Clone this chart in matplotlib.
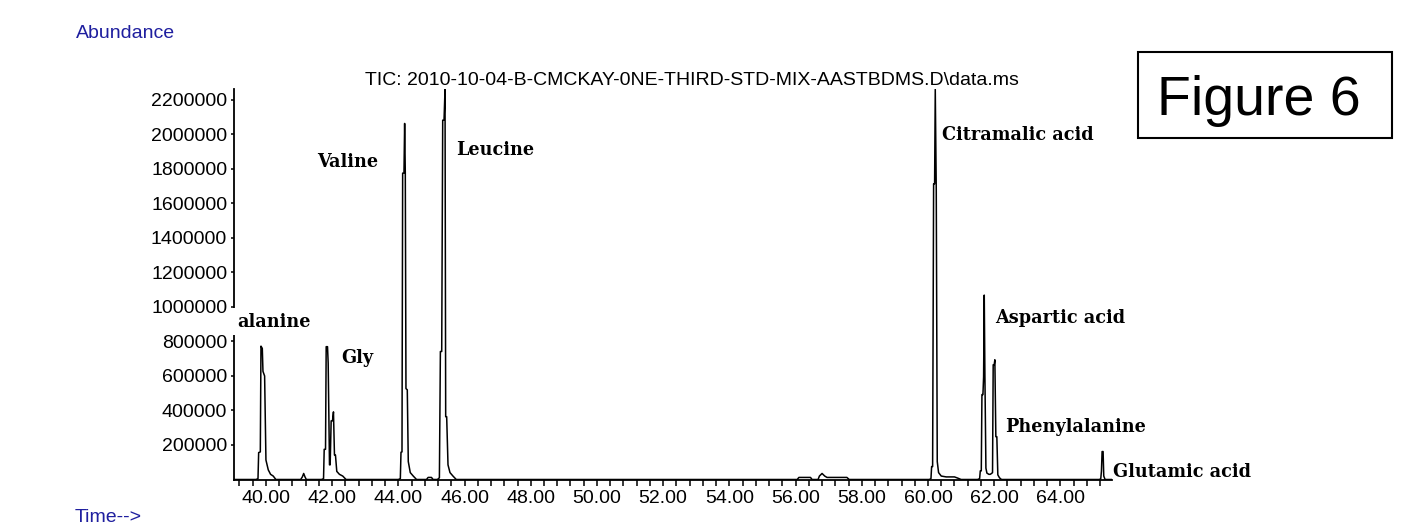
import numpy as np
import matplotlib
matplotlib.use("Agg")
import matplotlib.pyplot as plt
from matplotlib.patches import Rectangle

# === chromatogram data (time in min, abundance) ===
start_t = [39.02, 39.70]
start_a = [0, 0]

alanine_t = [39.76, 39.78, 39.83, 39.85, 39.89, 39.91, 39.96, 40.00, 40.07, 40.14, 40.22, 40.30]
alanine_a = [5000, 156000, 160000, 773000, 760000, 627000, 600000, 113000, 56000, 30000, 20000, 0]

bump41_t = [41.05, 41.10, 41.14, 41.18, 41.22]
bump41_a = [0, 15000, 35000, 15000, 0]

gly_t = [41.68, 41.74, 41.76, 41.80, 41.82, 41.86, 41.88, 41.92, 41.94, 41.97, 42.01, 42.04,
         42.07, 42.10, 42.14, 42.22, 42.32, 42.42]
gly_a = [0, 5000, 175000, 175000, 770000, 770000, 675000, 85000, 85000, 340000, 340000, 392000,
         142000, 142000, 47000, 30000, 20000, 0]

valine_t = [44.00, 44.06, 44.08, 44.11, 44.13, 44.17, 44.19, 44.21, 44.23, 44.27, 44.30, 44.36, 44.45, 44.55]
valine_a = [0, 5000, 158000, 160000, 1776000, 1776000, 2064000, 1776000, 527000, 520000, 104000, 40000, 20000, 0]

bump45_t = [44.85, 44.90, 45.00, 45.05]
bump45_a = [0, 12000, 12000, 0]

leucine_t = [45.18, 45.24, 45.27, 45.31, 45.34, 45.38, 45.41, 45.43, 45.46, 45.50, 45.56, 45.65, 45.75]
leucine_a = [0, 10000, 742000, 742000, 2083000, 2083000, 2262000, 364000, 364000, 85000, 40000, 20000, 0]

bump56_t = [56.05, 56.10, 56.45, 56.50, 56.68, 56.72, 56.80, 56.88, 56.95, 57.55, 57.62]
bump56_a = [0, 12000, 12000, 0, 0, 20000, 35000, 20000, 12000, 12000, 0]

citramalic_t = [60.04, 60.09, 60.11, 60.14, 60.17, 60.20, 60.22, 60.25, 60.28, 60.32, 60.40, 60.55,
                60.80, 60.90, 61.00]
citramalic_a = [0, 5000, 75000, 75000, 1714000, 1714000, 2262000, 1680000, 104000, 40000, 20000, 15000,
                15000, 8000, 0]

aspartic_t = [61.50, 61.56, 61.58, 61.61, 61.63, 61.66, 61.68, 61.70, 61.72, 61.75, 61.78, 61.84, 61.88]
aspartic_a = [0, 5000, 50000, 50000, 492000, 492000, 594000, 1069000, 594000, 66000, 37000, 30000, 30000]

phenyl_t = [61.92, 61.95, 61.97, 62.00, 62.02, 62.05, 62.08, 62.11, 62.16, 62.22]
phenyl_a = [35000, 40000, 665000, 665000, 694000, 248000, 248000, 27000, 10000, 0]

glutamic_t = [65.18, 65.22, 65.24, 65.26, 65.29, 65.31, 65.35, 65.55]
glutamic_a = [0, 5000, 48000, 162000, 162000, 20000, 0, 0]

peak_names = ["alanine", "Gly", "Valine", "Leucine", "Citramalic acid",
              "Aspartic acid", "Phenylalanine", "Glutamic acid"]

y_ticks = [200000, 400000, 600000, 800000, 1000000, 1200000, 1400000, 1600000,
           1800000, 2000000, 2200000]
x_major = [40, 42, 44, 46, 48, 50, 52, 54, 56, 58, 60, 62, 64]

title = "TIC: 2010-10-04-B-CMCKAY-0NE-THIRD-STD-MIX-AASTBDMS.D\\data.ms"

t = np.concatenate([start_t, alanine_t, bump41_t, gly_t, valine_t, bump45_t, leucine_t,
                    bump56_t, citramalic_t, aspartic_t, phenyl_t, glutamic_t])
a = np.concatenate([start_a, alanine_a, bump41_a, gly_a, valine_a, bump45_a, leucine_a,
                    bump56_a, citramalic_a, aspartic_a, phenyl_a, glutamic_a])

# === figure ===
W, H = 1415, 525
fig = plt.figure(figsize=(W / 100, H / 100), dpi=100)
ax = fig.add_axes([233.5 / W, (H - 479.5) / H, (1111.7 - 233.5) / W, 390.2 / H])

ax.plot(t, a, color='black', linewidth=1.1)
ax.set_xlim(39.02, 65.55)
ax.set_ylim(0, 2262000)

for s in ['top', 'right']:
    ax.spines[s].set_visible(False)
for s in ['left', 'bottom']:
    ax.spines[s].set_linewidth(1.3)

tick_font = dict(family='Liberation Sans', size=14)
ax.set_yticks(y_ticks)
ax.set_yticklabels([str(v) for v in y_ticks], fontdict=tick_font)
ax.set_xticks(x_major)
ax.set_xticklabels(["%.2f" % v for v in x_major], fontdict=tick_font)
ax.set_xticks(np.arange(39.2, 65.4, 0.4), minor=True)
ax.tick_params(axis='x', which='both', direction='out', length=4.5, width=1.1, pad=3)
ax.tick_params(axis='y', direction='out', length=2.5, width=1.1, pad=2)

# peak labels
lab_font = dict(family='DejaVu Serif', weight='bold', size=12.7)
lab_pos = [(39.12, 885800), (42.29, 673600), (41.56, 1813000), (45.76, 1881000),
           (60.41, 1968000), (62.02, 905500), (62.33, 277100), (65.60, 16200)]
for name, (x, y) in zip(peak_names, lab_pos):
    kw = {}
    if name == "alanine":
        kw['bbox'] = dict(facecolor='white', edgecolor='none', pad=3)
    ax.text(x, y, name, va='baseline', ha='left', clip_on=False, zorder=5, **lab_font, **kw)

# texts around
fig.text(692 / W, 1 - 85 / H, title, ha='center', va='baseline', family='Liberation Sans', size=14)
blue = '#1f1f9f'
fig.text(76 / W, 1 - 33 / H, "Abundance", ha='left', va='center', color=blue,
         family='Liberation Sans', size=14)
fig.text(75 / W, 1 - 518 / H, "Time-->", ha='left', va='center', color=blue,
         family='Liberation Sans', size=14)

fig.add_artist(Rectangle((1138.3 / W, 1 - 138.3 / H), 253.4 / W, 86 / H,
                         transform=fig.transFigure, fill=False, linewidth=1.5, edgecolor='black'))
fig.text(1259 / W, 1 - 115 / H, "Figure 6", ha='center', va='baseline',
         family='Liberation Sans', size=40)

fig.savefig("out.png", dpi=100)
